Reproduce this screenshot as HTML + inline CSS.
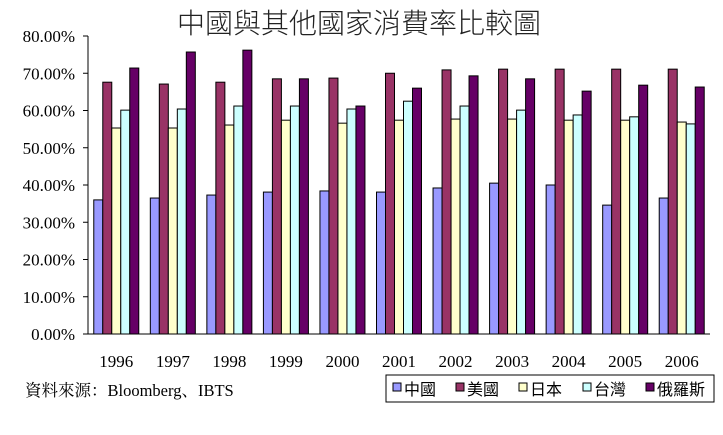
<!DOCTYPE html>
<html><head><meta charset="utf-8"><style>
body{margin:0;background:#fff;}
svg text{font-family:"Liberation Serif","Noto Serif CJK SC","Noto Sans CJK TC",serif;}
</style></head><body>
<svg id="c" width="723" height="430" xmlns="http://www.w3.org/2000/svg">
<text x="359" y="33" font-size="28" text-anchor="middle" fill="#222" style="font-family:'Noto Sans CJK TC',sans-serif;font-weight:300">中國與其他國家消費率比較圖</text>
<g id="grid"></g><g id="bars"></g><g id="axes"></g>
<text x="25" y="396" font-size="16.5" fill="#000">資料來源：Bloomberg、IBTS</text>
<g id="legend"><rect x="386" y="375" width="328" height="27" fill="#fff" stroke="#000" stroke-width="1"/></g>
</svg>
<script>
const years=["1996","1997","1998","1999","2000","2001","2002","2003","2004","2005","2006"];
const seriesNames=["中國","美國","日本","台灣","俄羅斯"];
const china=[36.0,36.5,37.3,38.1,38.4,38.1,39.2,40.5,40.0,34.6,36.5];
const usa=[67.6,67.1,67.6,68.5,68.7,70.0,70.9,71.1,71.1,71.1,71.1];
const japan=[55.3,55.3,56.1,57.4,56.6,57.4,57.7,57.7,57.4,57.4,56.9];
const taiwan=[60.1,60.4,61.2,61.2,60.4,62.5,61.2,60.1,58.8,58.3,56.4];
const russia=[71.4,75.7,76.2,68.5,61.2,66.0,69.3,68.5,65.2,66.8,66.3];
const yTicks=[0,10,20,30,40,50,60,70,80];
const colors=["#9999ff","#993366","#ffffcc","#ccffff","#660066"];
const all=[china,usa,japan,taiwan,russia];
const NS="http://www.w3.org/2000/svg";
const x0=88,x1=710,yb=334,yt=36;
const y=v=>yb-(v/80)*(yb-yt);
const gw=(x1-x0)/years.length;
function el(t,a,p){const e=document.createElementNS(NS,t);for(const k in a)e.setAttribute(k,a[k]);document.getElementById(p).appendChild(e);return e;}
const bw=9;
years.forEach((yr,i)=>{
  const gx=x0+gw*i+gw/2-bw*2.5;
  all.forEach((s,j)=>{
    const r=el('rect',{x:gx+j*bw,y:y(s[i]),width:bw,height:yb-y(s[i]),fill:colors[j],stroke:"#000","stroke-width":1},'bars');
    
    
  });
  const t=el('text',{x:x0+gw*i+gw/2,y:367,"font-size":17,"text-anchor":"middle"},'axes');t.textContent=yr;
  
  
});
yTicks.forEach(v=>{
  el('line',{x1:x0-5,x2:x0,y1:y(v),y2:y(v),stroke:"#000"},'axes');
  const t=el('text',{x:75,y:y(v)+6,"font-size":17,"text-anchor":"end"},'axes');t.textContent=v.toFixed(2)+"%";
  
  
});
el('line',{x1:x0,x2:x0,y1:yt,y2:yb,stroke:"#000"},'axes');
el('line',{x1:x0,x2:x1,y1:yb,y2:yb,stroke:"#000"},'axes');
const lx=[393,456,519,583,646];
seriesNames.forEach((n,j)=>{
  const r=el('rect',{x:lx[j],y:383,width:8,height:8,fill:colors[j],stroke:"#000"},'legend');
  
  
  const t=el('text',{x:lx[j]+11,y:395,"font-size":16,style:"font-family:'Noto Sans CJK TC',sans-serif"},'legend');t.textContent=n;
  
  
});
</script>
</body></html>
